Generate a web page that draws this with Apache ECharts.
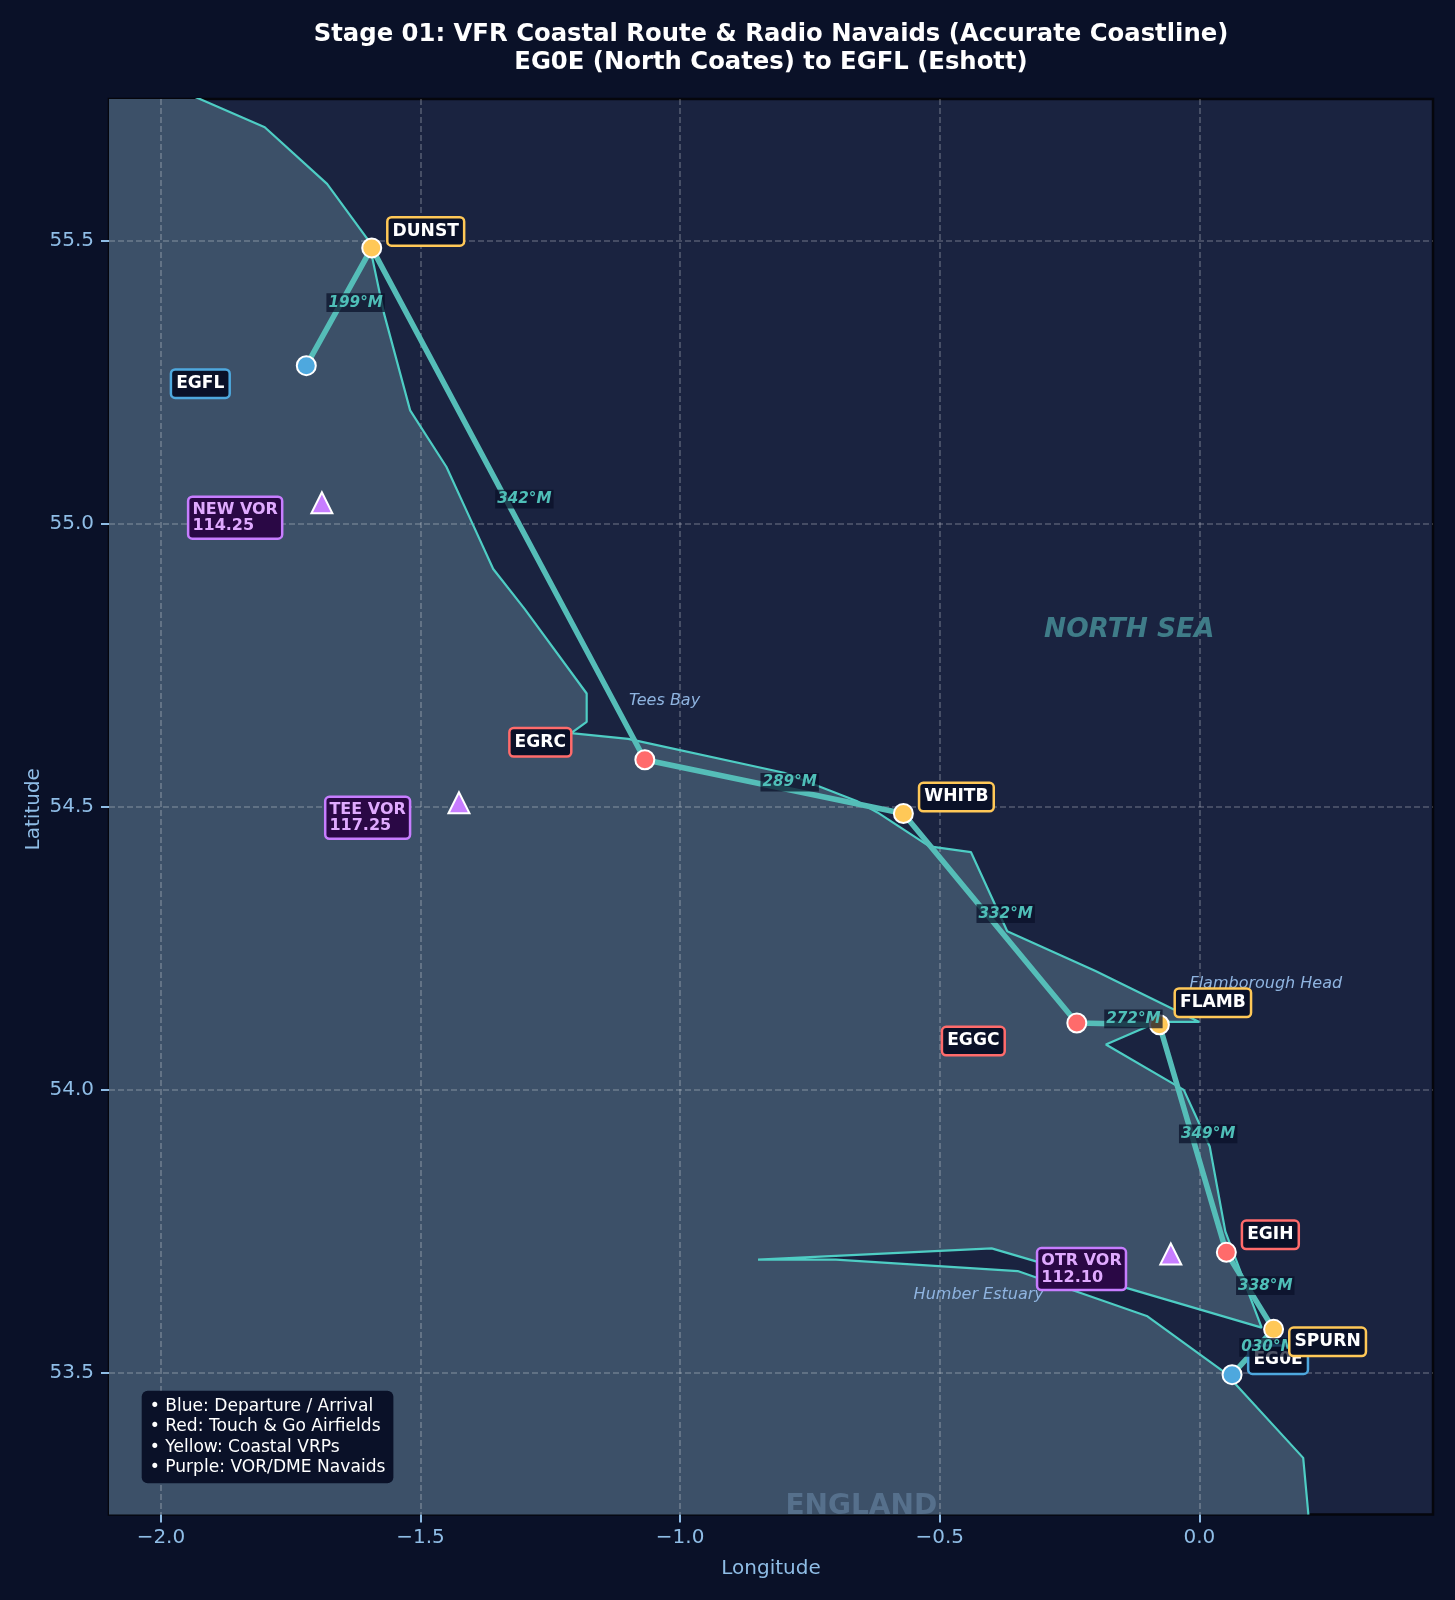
<!DOCTYPE html>
<html>
<head>
<meta charset="utf-8">
<style>html,body{margin:0;padding:0;background:#0a1128}#c{width:1455px;height:1600px}</style>
<script src="https://cdn.jsdelivr.net/npm/echarts@6/dist/echarts.min.js"></script>
</head>
<body>
<div id="c"></div>
<script>
// ---- data ----
const xTicks = [-2.0, -1.5, -1.0, -0.5, 0.0];
const yTicks = [53.5, 54.0, 54.5, 55.0, 55.5];
const coastLon = [0.21,0.2,0.05,-0.1,-0.35,-0.7,-0.85,-0.4,0.12,0.05,0.02,-0.03,-0.18,-0.08,0.0,-0.2,-0.37,-0.44,-0.52,-0.62,-0.66,-0.8,-1.1,-1.21,-1.18,-1.18,-1.3,-1.36,-1.4,-1.45,-1.52,-1.57,-1.6,-1.68,-1.8,-1.925,-2.1];
const coastLat = [53.25,53.35,53.5,53.6,53.68,53.7,53.7,53.72,53.58,53.75,53.9,54.0,54.08,54.12,54.12,54.21,54.28,54.42,54.43,54.49,54.51,54.56,54.62,54.63,54.65,54.7,54.85,54.92,55.0,55.1,55.2,55.37,55.5,55.6,55.7,55.75,55.82];
const landCloseLon = [-3.0,-3.0,0.21];
const landCloseLat = [55.82,53.0,53.0];
const wpNames = ['EG0E','SPURN','EGIH','FLAMB','EGGC','WHITB','EGRC','DUNST','EGFL'];
const wpLon = [0.063,0.143,0.052,-0.077,-0.236,-0.57,-1.068,-1.594,-1.72];
const wpLat = [53.497,53.577,53.713,54.115,54.118,54.488,54.583,55.487,55.279];
const wpKind = ['blue','yellow','red','yellow','red','yellow','red','yellow','blue'];
const legLabels = ['030°M','338°M','349°M','272°M','332°M','289°M','342°M','199°M'];
const legLon = [0.133,0.127,0.017,-0.127,-0.373,-0.789,-1.30,-1.625];
const legLat = [53.547,53.656,53.924,54.127,54.313,54.545,55.045,55.392];
const vorNames = ['NEW VOR\n114.25','TEE VOR\n117.25','OTR VOR\n112.10'];
const vorLon = [-1.69,-1.426,-0.055];
const vorLat = [55.037,54.507,53.71];
const placeNames = ['Tees Bay','Flamborough Head','Humber Estuary'];
const placeLon = [-1.03,0.128,-0.425];
const placeLat = [54.69,54.19,53.64];
const legendLines = ['• Blue: Departure / Arrival','• Red: Touch & Go Airfields','• Yellow: Coastal VRPs','• Purple: VOR/DME Navaids'];

// ---- presentation ----
const FONT = '"DejaVu Sans"';
const BG = '#0a1128', PLOT = '#1a2340', LAND = '#3c5068', TEAL = '#4ecdc4', AXIS = '#8fbde6';
const KIND = {blue:'#4ea8de', red:'#ff6b6b', yellow:'#ffc857'};
const PURPLE = '#c77dff';
const wpOffsets = {EG0E:[46,-15],SPURN:[54,12.5],EGIH:[44,-17.5],FLAMB:[53.5,-22],EGGC:[-103.5,18],WHITB:[53,-16.5],EGRC:[-104.5,-17.5],DUNST:[54,-16.5],EGFL:[-106,18]};

const zip = (a,b) => a.map((v,i)=>[v,b[i]]);
const coast = zip(coastLon,coastLat);
const landPoly = coast.concat(zip(landCloseLon,landCloseLat));
const ghost = {symbolSize:1, itemStyle:{color:'transparent',opacity:1}, silent:true};

function wpLabelItem(i){
  const n = wpNames[i];
  return {value:[wpLon[i],wpLat[i]], label:{
    show:true, position:'inside', formatter:n, offset:wpOffsets[n],
    color:'#fff', fontFamily:FONT, fontWeight:'bold', fontSize:17.1, lineHeight:18,
    backgroundColor:BG, borderColor:KIND[wpKind[i]], borderWidth:2.5, borderRadius:3, padding:[4,4]
  }};
}
const idx = wpNames.map((_,i)=>i);
const split = {show:true,lineStyle:{color:'rgba(255,255,255,0.25)',width:1.6,type:[6,3]}};
const option = {
  backgroundColor:BG,
  animation:false,
  title:{text:'Stage 01: VFR Coastal Route & Radio Navaids (Accurate Coastline)\nEG0E (North Coates) to EGFL (Eshott)',
    left:766, top:16, textAlign:'center',
    textStyle:{color:'#fff',fontFamily:FONT,fontWeight:'bold',fontSize:24.3,lineHeight:28}},
  grid:{left:109, right:22, top:99, bottom:85.5, show:true, backgroundColor:PLOT, borderColor:'#05060c', borderWidth:2.5},
  xAxis:{type:'value', z:2, min:-2.1, max:0.45, splitNumber:5, name:'Longitude', nameLocation:'middle', nameGap:44,
    nameTextStyle:{color:AXIS,fontFamily:FONT,fontSize:20},
    axisLine:{show:false,onZero:false},
    axisTick:{show:true,length:8,customValues:xTicks,lineStyle:{color:AXIS,width:2}},
    axisLabel:{color:AXIS,fontFamily:FONT,fontSize:20,margin:13,customValues:xTicks,
      formatter:v=>v.toFixed(1).replace('-','\u2212')},
    splitLine:split},
  yAxis:{type:'value', z:2, min:53.25, max:55.75, splitNumber:5, name:'Latitude', nameLocation:'middle', nameGap:65, nameMoveOverlap:false,
    nameTextStyle:{color:AXIS,fontFamily:FONT,fontSize:20,padding:[0,5,0,0]},
    axisLine:{show:false,onZero:false},
    axisTick:{show:true,length:8,customValues:yTicks,lineStyle:{color:AXIS,width:2}},
    axisLabel:{color:AXIS,fontFamily:FONT,fontSize:20,margin:15,customValues:yTicks,padding:[6,0,0,0],
      formatter:v=>v.toFixed(1)},
    splitLine:split},
  series:[
    {type:'custom', name:'land', z:1, clip:true, silent:true, coordinateSystem:'cartesian2d', data:landPoly,
      encode:{x:0,y:1},
      renderItem:(p,api)=>{
        if(p.dataIndex!==0) return;
        return {type:'polygon',shape:{points:landPoly.map(c=>api.coord(c))},style:{fill:LAND,stroke:null}};
      }},
    {type:'line', name:'coast', z:3, data:coast, symbol:'none', silent:true, clip:true,
      lineStyle:{color:TEAL,width:2.2}},
    {type:'line', name:'route', z:4, data:zip(wpLon,wpLat), symbol:'none', silent:true,
      lineStyle:{color:'#55bdb8',width:5.5,cap:'round',join:'round'}},
    {type:'scatter', name:'places', z:5, ...ghost, data:placeNames.map((n,i)=>({value:[placeLon[i],placeLat[i]],
      label:{show:true,position:'inside',offset:[0,1.5],formatter:n,color:'#8fb4e0',fontFamily:FONT,fontStyle:'italic',fontSize:16}}))},
    {type:'scatter', name:'sea', z:5, ...ghost, data:[{value:[-0.135,54.816],
      label:{show:true,position:'inside',offset:[0,2],formatter:'NORTH SEA',color:'#3f7c88',fontFamily:FONT,fontStyle:'italic',fontWeight:'bold',fontSize:26.4}}]},
    {type:'scatter', name:'england', z:5, ...ghost, data:[{value:[-0.651,53.27],
      label:{show:true,position:'inside',offset:[0,3.5],formatter:'ENGLAND',color:'#56708c',fontFamily:FONT,fontWeight:'bold',fontSize:28}}]},
    {type:'scatter', name:'waypoints', z:6, silent:true, symbol:'circle', symbolSize:19,
      data:idx.map(i=>({value:[wpLon[i],wpLat[i]],itemStyle:{color:KIND[wpKind[i]],borderColor:'#fff',borderWidth:2,opacity:1}}))},
    {type:'scatter', name:'vors', z:6, silent:true, symbol:'triangle', symbolSize:21,
      itemStyle:{color:PURPLE,borderColor:'#fff',borderWidth:2,opacity:1},
      data:vorNames.map((n,i)=>({value:[vorLon[i],vorLat[i]],
        label:{show:true,position:'inside',align:'left',formatter:n,offset:[-132.5,15],
          color:'#e0aaff',fontFamily:FONT,fontWeight:'bold',fontSize:16,lineHeight:16.7,
          backgroundColor:'#2a0845',borderColor:PURPLE,borderWidth:2.5,borderRadius:3,padding:[3,3]}}))},
    {type:'scatter', name:'wpLabelsLow', z:7, ...ghost, data:idx.filter(i=>wpNames[i]==='EG0E').map(wpLabelItem)},
    {type:'scatter', name:'legs', z:8, ...ghost, data:legLabels.map((t,i)=>({value:[legLon[i],legLat[i]],
      label:{show:true,position:'inside',offset:[0,1],formatter:t,color:'#4fbfb8',fontFamily:FONT,fontStyle:'italic',fontWeight:'bold',fontSize:15.2,lineHeight:18.7,
        backgroundColor:'rgba(10,17,40,0.72)',padding:[0,2]}}))},
    {type:'scatter', name:'wpLabels', z:9, ...ghost, data:idx.filter(i=>wpNames[i]!=='EG0E').map(wpLabelItem)}
  ],
  graphic:[{type:'text', left:141.7, top:1390.7, z:100, silent:true,
    style:{text:legendLines.join('\n'),fill:'#fff',font:'17.1px '+FONT,lineHeight:20.3,
      backgroundColor:BG,padding:[5.7,8,5.7,8],borderRadius:6}}]
};
echarts.init(document.getElementById('c'),null,{renderer:'canvas'}).setOption(option);
</script>
</body>
</html>
